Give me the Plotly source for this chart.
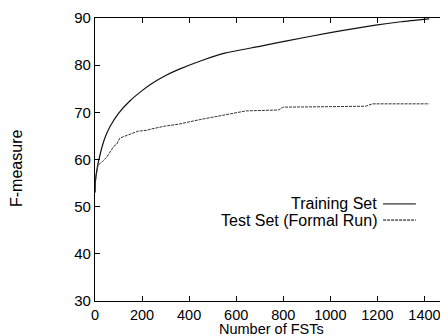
import plotly.graph_objects as go

train_x = [0, 2, 8, 17, 40, 64, 100, 148, 200, 242, 300, 356, 454, 556, 700, 810, 1000, 1192, 1300, 1420]
train_y = [53, 55.5, 57.8, 60.1, 64.3, 67.0, 69.8, 72.4, 74.6, 76.1, 77.8, 79.1, 81.0, 82.6, 84.0, 85.1, 86.9, 88.5, 89.2, 89.8]

test_x = [0, 2, 8, 13, 30, 50, 64, 80, 93, 105, 119, 140, 160, 182, 220, 242, 300, 356, 450, 556, 600, 641, 780, 800, 1000, 1150, 1180, 1420]
test_y = [53, 55.5, 57.5, 58.8, 59.5, 60.5, 61.6, 62.8, 63.3, 64.5, 64.8, 65.2, 65.5, 66.0, 66.2, 66.5, 67.1, 67.5, 68.5, 69.5, 69.8, 70.3, 70.5, 71.1, 71.2, 71.3, 71.8, 71.8]

x_ticks = [0, 200, 400, 600, 800, 1000, 1200, 1400]
y_ticks = [30, 40, 50, 60, 70, 80, 90]

series_names = ["Training Set", "Test Set (Formal Run)"]
x_title = "Number of FSTs"
y_title = "F-measure"

font_family = "Liberation Sans, Arial, Helvetica, sans-serif"
tick_font = dict(family=font_family, size=15, color="black")
xtick_font = dict(family=font_family, size=14.5, color="black")
txt_font = dict(family=font_family, size=16, color="black")
xt_font = dict(family=font_family, size=14.5, color="black")

fig = go.Figure()
fig.add_trace(go.Scatter(x=train_x, y=train_y, mode="lines", name=series_names[0],
                         line=dict(color="#111111", width=1.2, shape="spline", smoothing=0.6), showlegend=False))
fig.add_trace(go.Scatter(x=test_x, y=test_y, mode="lines", name=series_names[1],
                         line=dict(color="#333333", width=1, dash="3px,1px"), showlegend=False))

axis_common = dict(showgrid=False, zeroline=False, showline=True, linecolor="black", linewidth=1.2,
                   mirror="ticks", ticks="inside", ticklen=5, tickcolor="black", automargin=False)

fig.update_xaxes(range=[0, 1500], tickvals=x_ticks, ticktext=[str(v) for v in x_ticks],
                 tickfont=xtick_font, **axis_common)
fig.update_yaxes(range=[30, 90], tickvals=y_ticks, ticktext=[str(v) for v in y_ticks],
                 tickfont=tick_font, **axis_common)

# axis titles as annotations
fig.add_annotation(xref="paper", yref="paper", x=0.5, y=-0.129, text=x_title, showarrow=False,
                   xanchor="center", yanchor="bottom", font=xt_font, borderpad=0)
fig.add_annotation(xref="paper", yref="paper", x=-0.221, y=0.47, text=y_title, showarrow=False,
                   xanchor="center", yanchor="middle", textangle=-90, font=txt_font)

# custom legend (text on the left, line sample on the right)
leg_y = [0.343, 0.286]
for name, yy, dash in zip(series_names, leg_y, ["solid", "3px,1px"]):
    fig.add_annotation(xref="paper", yref="paper", x=0.804, y=yy, text=name, showarrow=False,
                       xanchor="right", yanchor="middle", font=txt_font)
    fig.add_shape(type="line", xref="paper", yref="paper", x0=0.816, x1=0.909, y0=yy, y1=yy,
                  line=dict(color="black", width=1, dash=dash))

fig.update_layout(width=448, height=336, margin=dict(l=87, r=8, t=10, b=43),
                  plot_bgcolor="white", paper_bgcolor="white", font=txt_font)

fig.write_html("out.html")
